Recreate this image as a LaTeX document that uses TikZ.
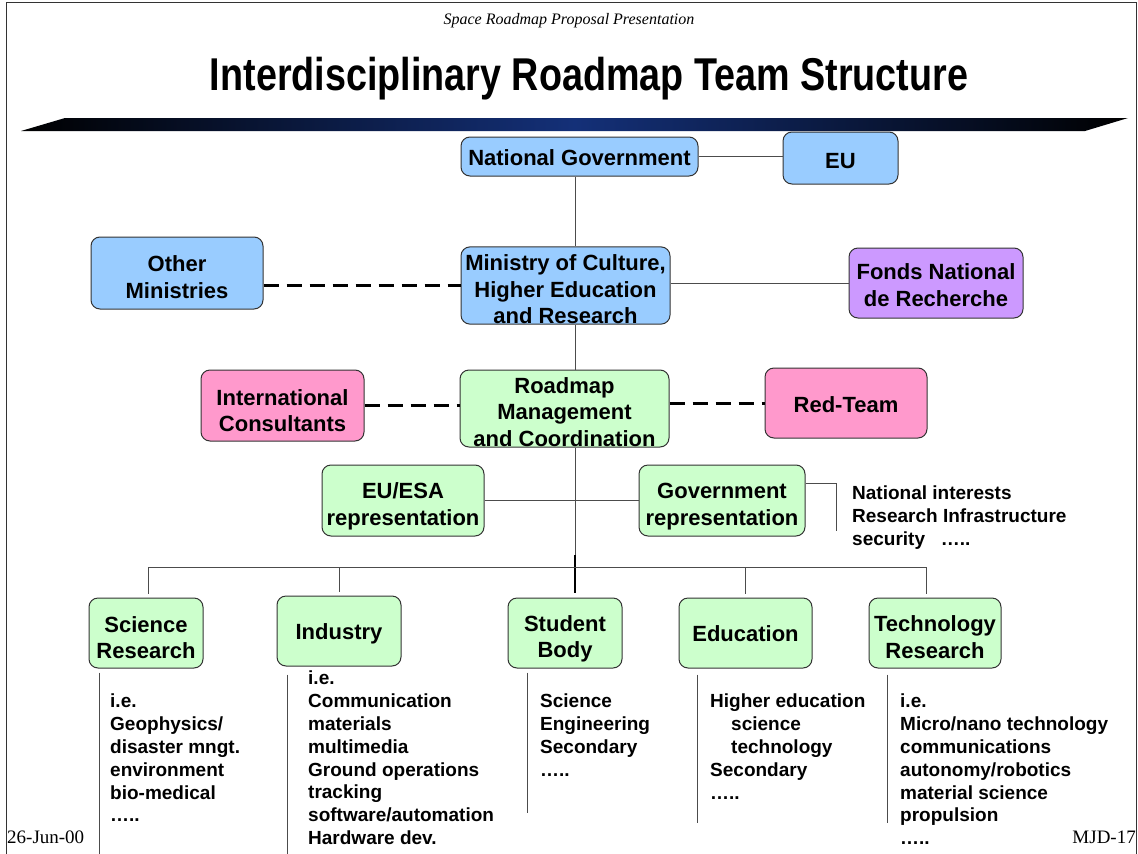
\documentclass[tikz,border=0pt]{standalone}
\usepackage{fontspec}
\usepackage{graphicx}
\setmainfont{Liberation Sans}
\newfontfamily\slidefont{Liberation Serif}
\usepackage{tikz}
\usetikzlibrary{calc}
\definecolor{govblue}{HTML}{99CCFF}
\definecolor{fondlilac}{HTML}{CC99FF}
\definecolor{extpink}{HTML}{FF99CC}
\definecolor{teamgreen}{HTML}{CCFFCC}
\definecolor{bannerblue}{RGB}{20,48,120}
% lowers the label inside its box
\newcommand{\lift}[1]{\rule{0pt}{#1}}

\begin{document}
\begin{tikzpicture}[x=1pt, y=-1pt,
    box/.style={rectangle, draw=black!80, line width=1pt, rounded corners=9pt, inner sep=0pt, text centered, align=center, font=\fontsize{22}{26.5}\selectfont\bfseries},
    govbox/.style={box, fill=govblue},
    fondbox/.style={box, fill=fondlilac},
    extbox/.style={box, fill=extpink},
    teambox/.style={box, fill=teamgreen},
    link/.style={draw=black!70, line width=1pt},
    dashlink/.style={draw=black, line width=3pt, dash pattern=on 15pt off 8pt},
    items/.style={anchor=north west, inner sep=0pt, align=left, font=\fontsize{19}{22.8}\selectfont\bfseries},
    slidetext/.style={inner sep=0pt, font=\slidefont\fontsize{19}{22}\selectfont}
]
    \useasboundingbox (0,0) rectangle (1138,854);
    \draw[black!80, line width=1pt] (6,854) -- (6,2) -- (1136,2) -- (1136,854);

    % Header
    \node[slidetext, anchor=base, font=\slidefont\itshape\fontsize{16}{18}\selectfont] (header) at (569,24) {Space Roadmap Proposal Presentation};
    \node[inner sep=0pt, anchor=base, font=\fontsize{46}{50}\selectfont\bfseries] (title) at (589,90) {\scalebox{0.82}[1]{Interdisciplinary Roadmap Team Structure}};
    \shade[left color=black, right color=black, middle color=bannerblue] (21,131) -- (65,118) -- (1128,118) -- (1085,131) -- cycle;

    % Government level
    \node[govbox, minimum width=237, minimum height=39] (natgov) at (579.5,156.5) {\lift{18pt}National Government};
    \node[govbox, minimum width=115, minimum height=52] (eu) at (840.5,158) {\lift{22pt}EU};
    \node[govbox, minimum width=172, minimum height=72] (othermin) at (177,273) {\lift{24pt}Other\\Ministries};
    \node[govbox, minimum width=209, minimum height=77] (ministry) at (565.5,285.5) {\lift{24pt}Ministry of Culture,\\Higher Education\\and Research};
    \node[fondbox, minimum width=174, minimum height=70] (fonds) at (936,283) {\lift{20pt}Fonds National\\de Recherche};

    % Roadmap level
    \node[extbox, minimum width=163, minimum height=71] (consult) at (282.5,405.5) {\lift{26pt}International\\Consultants};
    \node[teambox, minimum width=209, minimum height=77] (roadmap) at (564.5,408.5) {\lift{23pt}Roadmap\\Management\\and Coordination};
    \node[extbox, minimum width=162, minimum height=70] (redteam) at (846,403) {\lift{20pt}Red-Team};
    \node[teambox, minimum width=162, minimum height=71] (euesa) at (403,500.5) {\lift{28pt}EU/ESA\\representation};
    \node[teambox, minimum width=166, minimum height=71] (govrep) at (722,500.5) {\lift{28pt}Government\\representation};
    \node[items] (interests) at (852,486) {National interests\\Research Infrastructure\\security \ \ …..};

    % Working groups
    \node[teambox, minimum width=114, minimum height=70] (science) at (146,633) {\lift{25pt}Science\\Research};
    \node[teambox, minimum width=124, minimum height=70] (industry) at (339,631) {\lift{22pt}Industry};
    \node[teambox, minimum width=114, minimum height=70] (student) at (565,633) {\lift{28pt}Student\\Body};
    \node[teambox, minimum width=133, minimum height=70] (education) at (745.5,633) {\lift{18pt}Education};
    \node[teambox, minimum width=132, minimum height=70] (techres) at (935,633) {\lift{24pt}Technology\\Research};

    % Topics
    \node[items] (scienceList) at (110,694) {i.e.\\Geophysics/\\disaster mngt.\\environment\\bio-medical\\…..};
    \node[items] (industryList) at (308,671) {i.e.\\Communication\\materials\\multimedia\\Ground operations\\tracking\\software/automation\\Hardware dev.};
    \node[items] (studentList) at (540,694) {Science\\Engineering\\Secondary\\…..};
    \node[items] (educationList) at (710,694) {Higher education\\\hspace*{21pt}science\\\hspace*{21pt}technology\\Secondary\\…..};
    \node[items] (techresList) at (900,694) {i.e.\\Micro/nano technology\\communications\\autonomy/robotics\\material science\\propulsion\\…..};

    % Footer
    \node[slidetext, anchor=base west] (date) at (7,843) {26-Jun-00};
    \node[slidetext, anchor=base east] (pageno) at (1136,843) {MJD-17};

    % Spine and bus
    \coordinate (spine) at (575,0);
    \coordinate (busleft) at (148,567);
    \coordinate (busright) at (926,567);
    \coordinate (spineend) at (575,593);
    \coordinate (spinethick) at (575,555);

    % Links
    \draw[link] (natgov.east) -- (natgov.east -| eu.west);
    \draw[link] (natgov.south -| spine) -- (ministry.north -| spine);
    \draw[link] (fonds.west -| ministry.east) -- (fonds.west);
    \draw[dashlink] (ministry.west -| othermin.east) -- (ministry.west);
    \draw[link] (ministry.south -| spine) -- (roadmap.north -| spine);
    \draw[dashlink] (consult.east) -- (consult.east -| roadmap.west);
    \draw[dashlink] (redteam.west -| roadmap.east) -- (redteam.west);
    \draw[link] (roadmap.south -| spine) -- (spineend);
    \draw[black, line width=2.5pt] (spinethick) -- (spine |- busright);
    \draw[black, line width=2.5pt] (spine |- busright) -- (spineend);
    \draw[link] (euesa.east) -- (govrep.west);
    \draw[link] ($(govrep.east)+(0,-17.5)$) -| ($(interests.north west)+(-16,45)$);

    % Bus to working groups
    \draw[link] (busleft) -- (busright);
    \draw[link, shorten >=4pt] (busleft) -- (busleft |- science.north);
    \draw[link, shorten >=4pt] (industry.north |- busleft) -- (industry.north);
    \draw[link, shorten >=4pt] (education.north |- busleft) -- (education.north);
    \draw[link, shorten >=4pt] (busright) -- (busright |- techres.north);

    % Topic rules
    \draw[link] ($(science.south west)+(11,4)$) -- ++(0,182);
    \draw[link] ($(industry.south west)+(11,8)$) -- ++(0,180);
    \draw[link] ($(student.south west)+(20,4)$) -- ++(0,140);
    \draw[link] ($(education.south west)+(19,6)$) -- ++(0,148);
    \draw[link] ($(techres.south west)+(19,6)$) -- ++(0,148);
\end{tikzpicture}
\end{document}
